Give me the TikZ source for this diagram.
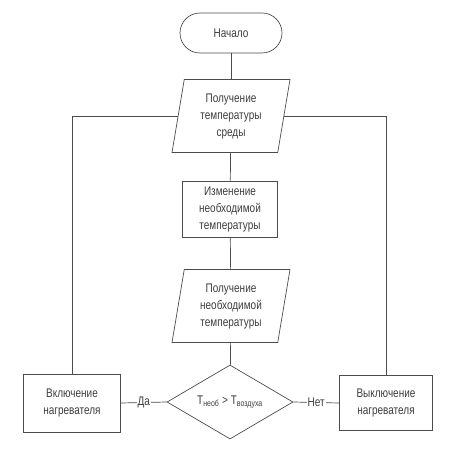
\documentclass[tikz,border=0pt]{standalone}
\usepackage{fontspec}
\setmainfont{Liberation Sans}[FakeStretch=0.8]
\usepackage{tikz}
\usetikzlibrary{positioning,shapes.geometric,calc}
\definecolor{ink}{gray}{0.3}
\tikzset{
  blk/.style={draw=ink, line width=0.7pt, align=center, inner sep=2pt, text=ink!80!black,
              font=\fontsize{12.5}{17}\selectfont},
  term/.style={blk, rounded corners=20pt, minimum width=102pt, minimum height=40pt},
  proc/.style={blk, rectangle},
  io/.style={blk, trapezium, trapezium left angle=76, trapezium right angle=104,
             trapezium stretches body, minimum width=118pt, minimum height=73pt},
  cond/.style={blk, diamond, aspect=1.7, minimum width=126pt, minimum height=74pt, inner sep=0pt},
  link/.style={draw=ink, line width=0.7pt},
  ans/.style={fill=white, inner sep=1pt, text=ink!80!black, font=\fontsize{12.5}{14}\selectfont},
}
\begin{document}
\begin{tikzpicture}[x=1pt, y=-1pt]
  \useasboundingbox (0,0) rectangle (455,462);
  \node[term] (start) at (231,33) {Начало};
  \node[io] (env) at (231,116) {Получение\\температуры\\среды};
  \node[proc, minimum width=95pt, minimum height=56pt] (set) at (230,209) {Изменение\\необходимой\\температуры};
  \node[io] (need) at (231,306) {Получение\\необходимой\\температуры};
  \node[cond] (cmp) at (230,402) {T\textsubscript{необ} > T\textsubscript{воздуха}};
  \node[proc, minimum width=97pt, minimum height=58pt] (on) at (72,403) {Включение\\нагревателя};
  \node[proc, minimum width=93pt, minimum height=55pt] (off) at (386,403) {Выключение\\нагревателя};
  % main line
  \draw[link] (start) -- (env);
  \draw[link] (env) -- (set);
  \draw[link] (set) -- (need);
  \draw[link] (need) -- (cmp);
  % branches
  \draw[link] (cmp.west) -- node[ans] {Да} (on.east);
  \draw[link] (cmp.east) -- node[ans] {Нет} (off.east -| off.west);
  \draw[link] (on.north) |- (env);
  \draw[link] (off.north) |- (env);
\end{tikzpicture}
\end{document}
